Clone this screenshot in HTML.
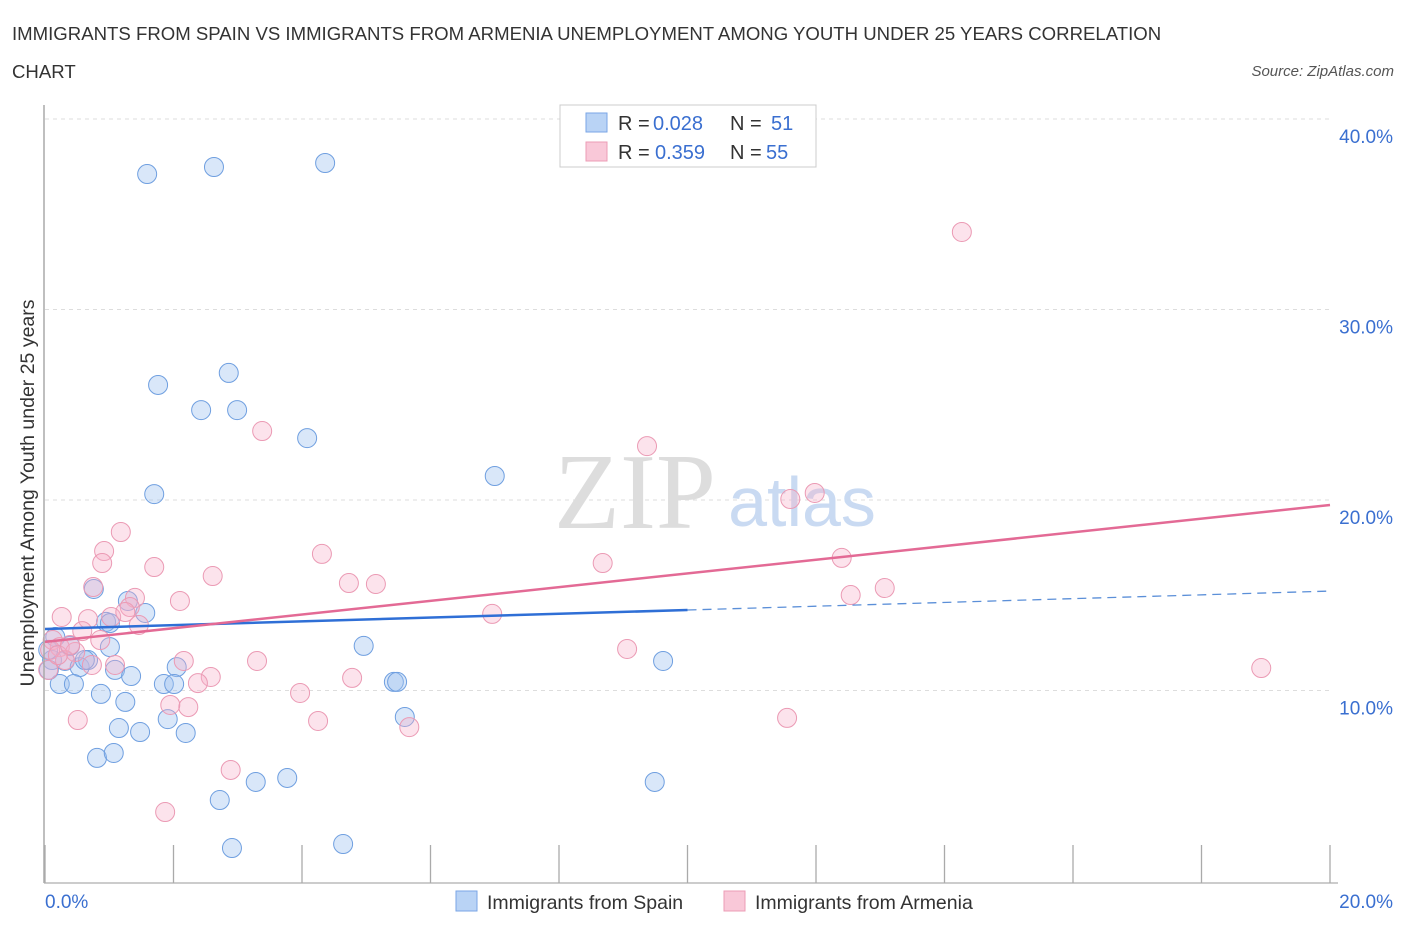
<!DOCTYPE html>
<html><head><meta charset="utf-8"><style>
body{margin:0;background:#fff;font-family:"Liberation Sans",sans-serif;}
</style></head><body>
<svg width="1406" height="930" xmlns="http://www.w3.org/2000/svg" style="font-family:'Liberation Sans',sans-serif">
<text x="12" y="40" font-size="18.6" fill="#333">IMMIGRANTS FROM SPAIN VS IMMIGRANTS FROM ARMENIA UNEMPLOYMENT AMONG YOUTH UNDER 25 YEARS CORRELATION</text>
<text x="12" y="78" font-size="18.6" fill="#333">CHART</text>
<text x="1394" y="76" font-size="15" font-style="italic" fill="#555" text-anchor="end">Source: ZipAtlas.com</text>
<g id="grid"></g>
<text x="635" y="528" font-size="108" font-family="'Liberation Serif',serif" fill="#ddd" text-anchor="middle">ZIP</text>
<text x="802" y="526" font-size="70" fill="#c9daf2" text-anchor="middle">atlas</text>
<g id="pts"></g>
<g id="trend"></g>
<line x1="44" y1="105" x2="44" y2="883" stroke="#aaa" stroke-width="1.5"/>
<line x1="44" y1="883" x2="1338" y2="883" stroke="#bbb" stroke-width="1.5"/>
<g id="ticks"></g>
<text x="45" y="908" font-size="19" fill="#3a6fd0">0.0%</text>
<text x="1393" y="908" font-size="19" fill="#3a6fd0" text-anchor="end">20.0%</text>
<text transform="translate(34,493) rotate(-90)" font-size="19.5" fill="#333" text-anchor="middle">Unemployment Among Youth under 25 years</text>
<g>
<rect x="560" y="105" width="256" height="62" fill="#fff" stroke="#ccc"/>
<rect x="586" y="113" width="21" height="19" fill="#b9d3f5" stroke="#7aa6e6"/>
<rect x="586" y="142" width="21" height="19" fill="#f9c8d8" stroke="#ec9cb6"/>
<text x="618" y="130" font-size="20" fill="#333">R =</text>
<text x="653" y="130" font-size="20" fill="#3a6fd0">0.028</text>
<text x="730" y="130" font-size="20" fill="#333">N =</text>
<text x="771" y="130" font-size="20" fill="#3a6fd0">51</text>
<text x="618" y="159" font-size="20" fill="#333">R =</text>
<text x="655" y="159" font-size="20" fill="#3a6fd0">0.359</text>
<text x="730" y="159" font-size="20" fill="#333">N =</text>
<text x="766" y="159" font-size="20" fill="#3a6fd0">55</text>
</g>
<rect x="456" y="891" width="21" height="20" fill="#b9d3f5" stroke="#7aa6e6"/>
<text x="487" y="909" font-size="19.5" fill="#333">Immigrants from Spain</text>
<rect x="724" y="891" width="21" height="20" fill="#f9c8d8" stroke="#ec9cb6"/>
<text x="755" y="909" font-size="19.5" fill="#333">Immigrants from Armenia</text>
</svg>
<script>
const yTicks=[10,20,30,40];
const yTickLabels=["10.0%","20.0%","30.0%","40.0%"];
const xTicks=[0,2,4,6,8,10,12,14,16,18,20];
const spainX=[1.59,2.63,4.36,1.76,2.86,2.43,2.99,4.08,1.70,7.00,1.56,1.29,0.76,0.95,1.01,0.16,0.11,0.31,0.54,0.67,0.39,0.23,0.45,1.09,1.34,2.05,1.85,2.01,0.87,1.25,1.91,2.19,1.15,1.48,0.81,1.07,2.72,3.28,3.77,2.91,4.64,4.96,5.43,5.48,5.60,9.62,9.49,0.06,0.05,0.62,1.01];
const spainY=[37.11,37.48,37.69,26.04,26.67,24.72,24.72,23.25,20.31,21.26,14.07,14.70,15.33,13.60,12.28,12.81,11.60,11.55,11.23,11.60,12.34,10.34,10.34,11.08,10.76,11.23,10.34,10.34,9.82,9.40,8.50,7.77,8.03,7.82,6.46,6.72,4.25,5.20,5.41,1.73,1.94,12.34,10.45,10.45,8.61,11.55,5.20,11.08,12.13,11.60,13.54];
const armX=[14.27,3.38,9.37,11.60,11.98,1.18,0.92,1.70,4.31,0.89,2.61,8.68,4.73,5.15,12.40,12.54,13.07,0.75,2.10,1.40,1.32,0.26,0.67,1.03,0.58,1.46,6.96,0.12,0.23,0.47,0.31,0.08,1.09,2.16,3.30,9.06,18.93,2.58,2.38,3.97,4.78,2.23,1.95,0.51,4.25,5.67,11.55,2.89,1.87,0.05,0.20,0.86,1.25,0.39,0.73];
const armY=[34.07,23.62,22.83,20.05,20.37,18.32,17.32,16.48,17.17,16.69,16.01,16.69,15.64,15.59,16.96,15.01,15.38,15.43,14.70,14.86,14.38,13.86,13.75,13.86,13.12,13.44,14.02,12.65,12.28,12.02,11.60,12.13,11.34,11.55,11.55,12.18,11.18,10.71,10.39,9.87,10.66,9.13,9.24,8.45,8.40,8.08,8.56,5.83,3.62,11.08,11.86,12.65,14.12,12.39,11.34];
const spainTrend=[13.23,15.22];
const armTrend=[12.55,19.74];
const NS="http://www.w3.org/2000/svg";
const xs=v=>45+v*64.25, ys=v=>881-v*19.05;
function mk(t,a,p){const e=document.createElementNS(NS,t);for(const k in a)e.setAttribute(k,a[k]);p.appendChild(e);return e;}
const grid=document.getElementById('grid');
yTicks.forEach((v,i)=>{
 const l=mk('line',{x1:45,x2:1330,y1:ys(v),y2:ys(v),stroke:'#ddd','stroke-dasharray':'4,4'},grid);
 
 
 const t=mk('text',{x:1393,y:ys(v)+24,'font-size':19,fill:'#3a6fd0','text-anchor':'end'},grid);
 t.textContent=yTickLabels[i];
 
 
});
const tk=document.getElementById('ticks');
xTicks.forEach(v=>{
 const l=mk('line',{x1:xs(v),x2:xs(v),y1:845,y2:883,stroke:'#aaa','stroke-width':1.3},tk);
 
 
});
const pts=document.getElementById('pts');
spainX.forEach((x,i)=>{
 const c=mk('circle',{cx:xs(x),cy:ys(spainY[i]),r:9.5,fill:'rgba(160,195,240,0.4)',stroke:'#6f9fe0','stroke-width':1},pts);
 
 
});
armX.forEach((x,i)=>{
 const c=mk('circle',{cx:xs(x),cy:ys(armY[i]),r:9.5,fill:'rgba(245,175,200,0.35)',stroke:'#eb9ab4','stroke-width':1},pts);
 
 
});
const tr=document.getElementById('trend');
const sm=(spainTrend[0]+spainTrend[1])/2;
let l1=mk('line',{x1:xs(0),y1:ys(spainTrend[0]),x2:xs(10),y2:ys(sm),stroke:'#2f6fd6','stroke-width':2.5},tr);


let l2=mk('line',{x1:xs(10),y1:ys(sm),x2:xs(20),y2:ys(spainTrend[1]),stroke:'#5b8fd8','stroke-width':1.3,'stroke-dasharray':'9,6'},tr);


let l3=mk('line',{x1:xs(0),y1:ys(armTrend[0]),x2:xs(20),y2:ys(armTrend[1]),stroke:'#e36a95','stroke-width':2.5},tr);


</script>
</body></html>
